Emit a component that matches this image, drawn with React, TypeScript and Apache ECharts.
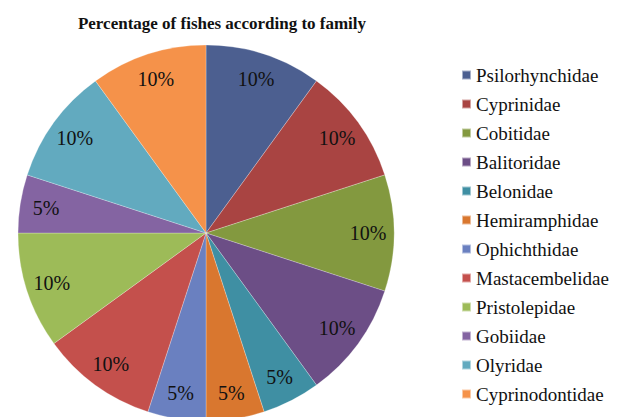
import React, { useEffect, useRef } from "react";
import * as echarts from "echarts";

const families = [
  "Psilorhynchidae",
  "Cyprinidae",
  "Cobitidae",
  "Balitoridae",
  "Belonidae",
  "Hemiramphidae",
  "Ophichthidae",
  "Mastacembelidae",
  "Pristolepidae",
  "Gobiidae",
  "Olyridae",
  "Cyprinodontidae",
];
const percentages = [10, 10, 10, 10, 5, 5, 5, 10, 10, 5, 10, 10];
const colors = [
  "#4C5F90",
  "#A94442",
  "#83993F",
  "#6C4E86",
  "#3F8FA3",
  "#D9772F",
  "#6A80C0",
  "#C4504C",
  "#9DBB58",
  "#8464A2",
  "#62AABF",
  "#F5924A",
];
const titleText = "Percentage of fishes according to family";

export default function App() {
  const ref = useRef<HTMLDivElement>(null);
  useEffect(() => {
    document.body.style.margin = "0";
    if (!ref.current) return;
    const chart = echarts.init(ref.current, null, { renderer: "svg" });
    const data = families.map((name, i) => ({
      name,
      value: percentages[i],
      itemStyle: { color: colors[i] },
    }));
    chart.setOption({
      animation: false,
      backgroundColor: "#ffffff",
      title: {
        text: titleText,
        left: 217,
        textAlign: "center",
        top: 10,
        textStyle: {
          fontFamily: "'Liberation Serif', 'DejaVu Serif', serif",
          fontWeight: "bold",
          fontSize: 17,
          color: "#111",
        },
      },
      legend: {
        orient: "vertical",
        left: 461,
        top: 65,
        padding: 0,
        itemWidth: 9,
        itemHeight: 9,
        itemGap: 9,
        icon: "rect",
        data: families,
        textStyle: {
          fontFamily: "'Liberation Serif', 'DejaVu Serif', serif",
          fontSize: 19,
          lineHeight: 20,
          color: "#111",
        },
      },
      series: [
        {
          type: "pie",
          center: [206, 233],
          radius: [0, 188],
          startAngle: 90,
          clockwise: true,
          data,
          label: { show: false },
          labelLine: { show: false },
          itemStyle: { borderColor: "rgba(255,255,255,0.5)", borderWidth: 0.5 },
          emphasis: { disabled: true },
        },
        {
          type: "pie",
          center: [206, 233],
          radius: [130, 188],
          startAngle: 90,
          clockwise: true,
          silent: true,
          data: families.map((name, i) => ({ name, value: percentages[i] })),
          itemStyle: { color: "rgba(0,0,0,0)", borderWidth: 0 },
          label: {
            show: true,
            position: "inside",
            formatter: "{c}%",
            fontFamily: "'Liberation Serif', 'DejaVu Serif', serif",
            fontSize: 20,
            color: "#111",
          },
          labelLine: { show: false },
          emphasis: { disabled: true },
        },
      ],
    });
    return () => chart.dispose();
  }, []);
  return <div ref={ref} style={{ width: 618, height: 417 }} />;
}
